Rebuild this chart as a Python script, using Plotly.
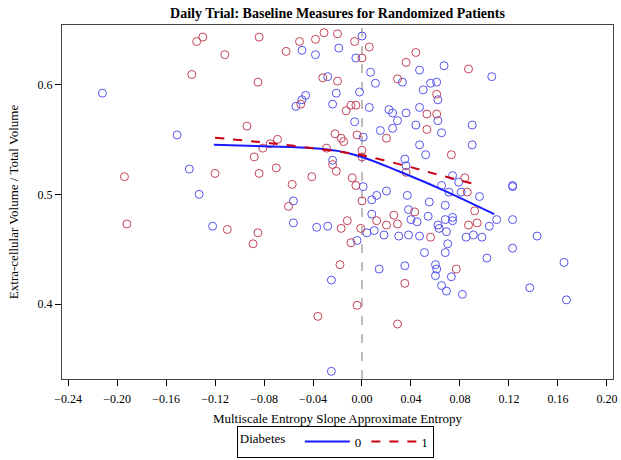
import plotly.graph_objects as go

# Diabetes = 0 (blue)
x_blue = [-0.212, -0.151, -0.141, -0.133, -0.049, -0.038, -0.019, -0.028, -0.046, -0.049, -0.054, -0.021, -0.024, -0.024, -0.056, -0.056, -0.122,
          0.000, -0.005, 0.007, 0.011, 0.067, 0.047, 0.106, 0.033, 0.056, 0.061, 0.050, 0.062, -0.002, 0.006, 0.022, 0.025, 0.036, 0.047, 0.029,
          0.025, 0.015, 0.044, 0.062, 0.065, 0.090, 0.090, -0.006, 0.001, 0.047, 0.052, 0.035, 0.036, 0.074, 0.079, 0.065, 0.081, 0.096, 0.123,
          0.123, 0.001, 0.020, 0.012, 0.037, 0.071, 0.008, 0.055, 0.068, 0.008, 0.038, 0.040, 0.045, 0.054, 0.068, 0.074, 0.074, 0.062, 0.063,
          0.069, 0.110, 0.104, 0.123, -0.037, -0.028, 0.010, 0.004, -0.004, 0.018, 0.030, 0.038, 0.047, 0.085, 0.091, 0.098, 0.143, 0.070, 0.068,
          0.051, 0.123, 0.102, 0.014, 0.035, 0.060, 0.061, 0.060, 0.073, 0.065, 0.069, 0.082, -0.025, 0.137, 0.165, 0.167, -0.025]
y_blue = [0.592, 0.554, 0.523, 0.500, 0.631, 0.627, 0.633, 0.607, 0.590, 0.586, 0.580, 0.592, 0.582, 0.531, 0.494, 0.474, 0.471,
          0.644, 0.624, 0.611, 0.601, 0.617, 0.613, 0.607, 0.602, 0.601, 0.602, 0.595, 0.586, 0.593, 0.579, 0.577, 0.574, 0.574, 0.579, 0.567,
          0.560, 0.558, 0.563, 0.567, 0.556, 0.563, 0.545, 0.566, 0.552, 0.545, 0.536, 0.532, 0.526, 0.517, 0.511, 0.508, 0.502, 0.498, 0.508,
          0.507, 0.507, 0.503, 0.499, 0.499, 0.502, 0.495, 0.493, 0.490, 0.482, 0.486, 0.477, 0.475, 0.480, 0.477, 0.479, 0.476, 0.472, 0.469,
          0.466, 0.477, 0.471, 0.477, 0.470, 0.471, 0.467, 0.465, 0.458, 0.463, 0.462, 0.463, 0.462, 0.461, 0.463, 0.461, 0.462, 0.455, 0.447,
          0.447, 0.451, 0.442, 0.432, 0.435, 0.436, 0.432, 0.426, 0.425, 0.417, 0.412, 0.409, 0.422, 0.415, 0.438, 0.404, 0.339]

# Diabetes = 1 (red)
x_red = [-0.135, -0.130, -0.084, -0.112, -0.062, -0.051, -0.038, -0.031, -0.020, -0.139, -0.085, -0.032, -0.020, -0.050, -0.094, -0.069,
         -0.081, -0.088, -0.022, -0.029, -0.024, -0.021, -0.070, -0.084, -0.120, -0.194, -0.041, -0.057, -0.075, -0.006, 0.006, 0.000,
         0.044, 0.036, 0.087, 0.029, 0.061, -0.013, -0.009, -0.005, 0.053, 0.061, 0.053, 0.020, -0.017, -0.015, -0.004, 0.000, 0.000,
         -0.008, -0.005, 0.036, 0.073, 0.084, 0.086, 0.000, 0.092, 0.087, 0.094, 0.043, 0.026, 0.012, 0.020, 0.029, -0.012, -0.017,
         -0.001, -0.009, 0.056, -0.018, 0.077, 0.035, -0.004, -0.036, 0.029, -0.060, -0.192, -0.110, -0.085, -0.089]
y_red = [0.639, 0.643, 0.643, 0.627, 0.630, 0.639, 0.641, 0.647, 0.646, 0.609, 0.602, 0.606, 0.603, 0.582, 0.562, 0.550,
         0.542, 0.534, 0.555, 0.542, 0.527, 0.521, 0.524, 0.519, 0.519, 0.516, 0.516, 0.509, 0.546, 0.639, 0.634, 0.624,
         0.629, 0.620, 0.614, 0.605, 0.591, 0.576, 0.581, 0.581, 0.573, 0.573, 0.559, 0.551, 0.551, 0.548, 0.554, 0.540, 0.534,
         0.515, 0.508, 0.520, 0.536, 0.515, 0.502, 0.494, 0.485, 0.472, 0.474, 0.484, 0.481, 0.476, 0.472, 0.473, 0.476, 0.469,
         0.469, 0.456, 0.461, 0.436, 0.432, 0.419, 0.399, 0.389, 0.382, 0.489, 0.473, 0.468, 0.465, 0.455]

# Smoothed fits
fit0_x = [-0.121, -0.080, -0.040, -0.020, 0.000, 0.030, 0.064, 0.108]
fit0_y = [0.545, 0.5436, 0.542, 0.5395, 0.534, 0.521, 0.505, 0.482]
fit1_x = [-0.120, -0.075, -0.030, 0.000, 0.037, 0.064, 0.093]
fit1_y = [0.5515, 0.5465, 0.5405, 0.5355, 0.5255, 0.5173, 0.509]

x_ticks = [-0.24, -0.20, -0.16, -0.12, -0.08, -0.04, 0.00, 0.04, 0.08, 0.12, 0.16, 0.20]
y_ticks = [0.4, 0.5, 0.6]

FONT = "Liberation Serif"

fig = go.Figure()
fig.add_trace(go.Scatter(x=x_blue, y=y_blue, mode="markers", showlegend=False,
                         marker=dict(symbol="circle-open", size=8, color="#5555ee", line=dict(width=1))))
fig.add_trace(go.Scatter(x=x_red, y=y_red, mode="markers", showlegend=False,
                         marker=dict(symbol="circle-open", size=8, color="#c24458", line=dict(width=1))))
fig.add_trace(go.Scatter(x=fit0_x, y=fit0_y, mode="lines", name="0", line_shape="spline",
                         line=dict(color="#1a1aff", width=2)))
fig.add_trace(go.Scatter(x=fit1_x, y=fit1_y, mode="lines", name="1", line_shape="spline",
                         line=dict(color="#cc0011", width=2, dash="dash")))

fig.add_shape(type="line", xref="x", yref="paper", x0=0, x1=0, y0=0, y1=1,
              line=dict(color="#a8a8a8", width=1.5, dash="dash"), layer="below")

fig.update_layout(
    width=621, height=460,
    margin=dict(l=62, r=8, t=25, b=81, autoexpand=False),
    paper_bgcolor="white", plot_bgcolor="white",
    font=dict(family=FONT, color="black", size=12),
    title=dict(text="<b>Daily Trial: Baseline Measures for Randomized Patients</b>",
               x=0.5, xref="paper", y=0.972, yanchor="middle", font=dict(size=14, family=FONT)),
    legend=dict(orientation="h", x=0.54, xref="container", xanchor="center",
                y=0.04, yref="container", yanchor="middle",
                valign="middle",
                title=dict(text="Diabetes  ", side="left", font=dict(size=13, family=FONT)),
                bordercolor="black", borderwidth=1, font=dict(size=13, family=FONT),
                itemwidth=45),
    xaxis=dict(range=[-0.245, 0.205], tickvals=x_ticks, tickformat=".2f",
               showgrid=False, zeroline=False, showline=True, linecolor="#444", linewidth=1,
               mirror=True, ticks="outside", ticklen=6, tickcolor="black",
               ticklabeloverflow="allow", ticklabelstandoff=3,
               tickfont=dict(size=12), title=dict(text="Multiscale Entropy Slope Approximate Entropy",
                                                    font=dict(size=13), standoff=16)),
    yaxis=dict(range=[0.332, 0.654], tickvals=y_ticks, tickformat=".1f",
               showgrid=False, zeroline=False, showline=True, linecolor="#444", linewidth=1,
               mirror=True, ticks="outside", ticklen=6, tickcolor="black",
               tickfont=dict(size=12), title=dict(text="Extra-cellular Volume / Total Volume",
                                                    font=dict(size=13), standoff=16)),
)

fig.write_html("out.html", config={"displayModeBar": False},
               post_script="document.body.style.margin='0';document.body.style.padding='0';")
